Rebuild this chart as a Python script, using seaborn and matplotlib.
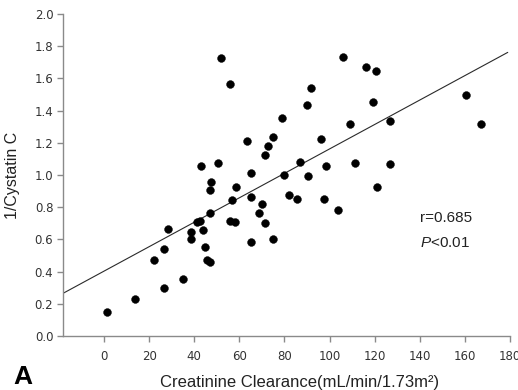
import matplotlib
matplotlib.use("Agg")
import matplotlib.pyplot as plt
import seaborn as sns
import numpy as np
import pandas as pd

# Data
creatinine_clearance = [1.2, 13.9, 26.7, 34.9, 22.2, 26.6, 28.2, 38.4, 38.4, 41.0,
                        42.6, 43.7, 44.9, 45.8, 47.1, 47.0, 47.2, 47.3, 42.9, 50.4,
                        52.0, 55.9, 63.6, 65.0, 58.3, 56.9, 55.9, 57.9, 65.0, 65.0,
                        70.0, 68.7, 71.4, 74.7, 71.4, 72.6, 75.1, 78.9, 79.7, 81.9,
                        85.6, 86.9, 90.6, 90.1, 91.9, 96.4, 98.6, 97.4, 103.7, 106.1,
                        116.2, 120.7, 119.1, 108.9, 127.0, 160.6, 167.1, 111.3, 126.8, 121.2]
inv_cystatin_c = [0.149, 0.232, 0.298, 0.357, 0.469, 0.539, 0.667, 0.603, 0.646, 0.711,
                  0.717, 0.660, 0.555, 0.472, 0.460, 0.764, 0.907, 0.957, 1.058, 1.072,
                  1.729, 1.564, 1.211, 1.012, 0.923, 0.845, 0.714, 0.710, 0.866, 0.586,
                  0.820, 0.762, 0.704, 0.603, 1.127, 1.180, 1.239, 1.354, 1.003, 0.876,
                  0.848, 1.078, 0.993, 1.435, 1.538, 1.222, 1.055, 0.853, 0.780, 1.730,
                  1.669, 1.643, 1.452, 1.318, 1.337, 1.499, 1.318, 1.076, 1.068, 0.927]

fit_intercept = 0.403
fit_slope = 0.00759
fit_x = [-18.0, 179.0]

x_ticks = [0, 20, 40, 60, 80, 100, 120, 140, 160, 180]
y_ticks = [0.0, 0.2, 0.4, 0.6, 0.8, 1.0, 1.2, 1.4, 1.6, 1.8, 2.0]

sns.set_style("ticks")
plt.rcParams['font.family'] = ['Liberation Sans', 'DejaVu Sans']
plt.rcParams['mathtext.fontset'] = 'custom'
plt.rcParams['mathtext.rm'] = 'Liberation Sans'
plt.rcParams['mathtext.it'] = 'Liberation Sans:italic'

df = pd.DataFrame({"x": creatinine_clearance, "y": inv_cystatin_c})

fig = plt.figure(figsize=(5.18, 3.90), dpi=100)
ax = fig.add_axes([63/518, 1-336/390, (510-63)/518, (336-14)/390])

fit_df = pd.DataFrame({"x": fit_x,
                       "y": [fit_intercept + fit_slope * v for v in fit_x]})
sns.lineplot(data=fit_df, x="x", y="y", ax=ax, color="#2a2a2a", linewidth=0.8)
sns.scatterplot(data=df, x="x", y="y", ax=ax, color="black", s=32,
                edgecolor="black", linewidth=0.3, zorder=3)

ax.set_xlim(-18.2, 180)
ax.set_ylim(0, 2.0)
ax.set_xticks(x_ticks)
ax.set_yticks(y_ticks)
ax.set_xticklabels([str(t) for t in x_ticks])
ax.set_yticklabels([f"{t:.1f}" for t in y_ticks])

spine_col = "#8a8a8a"
for side in ["top", "right"]:
    ax.spines[side].set_visible(False)
for side in ["left", "bottom"]:
    ax.spines[side].set_color(spine_col)
    ax.spines[side].set_linewidth(1.0)

ax.tick_params(axis="both", colors=spine_col, labelcolor="#333333",
               labelsize=8.5, length=4, width=1.0, direction="out")
for lab in ax.get_xticklabels() + ax.get_yticklabels():
    lab.set_family(['DejaVu Sans'])
ax.tick_params(axis="x", pad=6)
ax.tick_params(axis="y", pad=3)

ax.set_xlabel("Creatinine Clearance(mL/min/1.73m²)", fontsize=12, color="#222222")
ax.set_ylabel("1/Cystatin C", fontsize=11.5, color="#222222")
ax.xaxis.set_label_coords((300-63)/447, -(382-336)/322, transform=ax.transAxes)
ax.yaxis.set_label_coords(-(63-13)/447, 0.5, transform=ax.transAxes)
ax.xaxis.label.set_va("center")
ax.yaxis.label.set_va("center")

ax.text(140, 0.733, "r=0.685", fontsize=11, color="#222222", ha="left", va="center")
ax.text(140, 0.578, r"$\it{P}$<0.01", fontsize=11, color="#222222", ha="left", va="center")

fig.text(13/518, 1-377/390, "A", fontsize=19, fontweight="bold", color="black",
         ha="left", va="center")

fig.savefig("out.png", dpi=100)
